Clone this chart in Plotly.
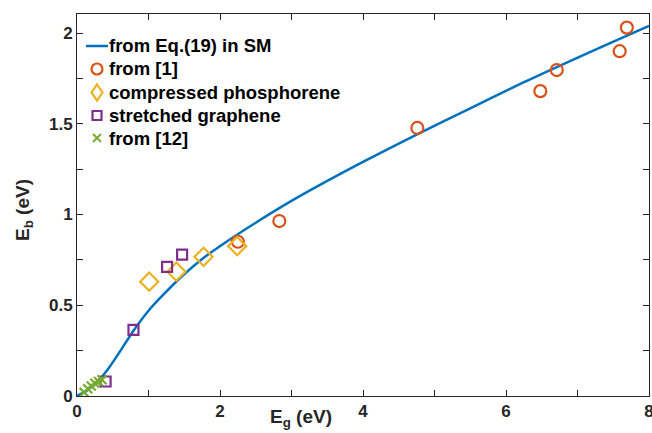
import plotly.graph_objects as go

# Model curve (from Eq.(19) in SM)
curve_x = [0, 0.1, 0.2, 0.3, 0.44, 0.6, 0.79, 1.0, 1.18, 1.46, 1.79, 2.07, 2.5, 3.0, 3.5, 4.0, 4.75, 5.5, 6.15, 6.71, 7.4, 8.0]
curve_y = [0, 0.02, 0.05, 0.085, 0.152, 0.245, 0.36, 0.47, 0.547, 0.657, 0.767, 0.845, 0.955, 1.075, 1.185, 1.29, 1.44, 1.585, 1.71, 1.812, 1.935, 2.04]

# from [1]
ref1_x = [2.25, 2.83, 4.76, 6.48, 6.71, 7.59, 7.69]
ref1_y = [0.85, 0.964, 1.477, 1.68, 1.796, 1.90, 2.03]

# compressed phosphorene
phos_x = [1.01, 1.39, 1.77, 2.24]
phos_y = [0.63, 0.685, 0.767, 0.826]

# stretched graphene
graph_x = [0.40, 0.79, 1.26, 1.47]
graph_y = [0.08, 0.364, 0.711, 0.779]

# from [12]
ref12_x = [0.10, 0.15, 0.20, 0.25, 0.30, 0.35]
ref12_y = [0.02, 0.04, 0.055, 0.07, 0.08, 0.09]

legend_labels = ["from Eq.(19) in SM", "from [1]", "compressed phosphorene", "stretched graphene", "from [12]"]

FONT = "Liberation Sans"
INK = "#262626"
C_LINE, C_REF1, C_PHOS, C_GRAPH, C_REF12 = "#0072BD", "#D95319", "#EDB120", "#7E2F8E", "#77AC30"

fig = go.Figure()
fig.add_trace(go.Scatter(x=curve_x, y=curve_y, mode="lines", name=legend_labels[0],
                         line=dict(color=C_LINE, width=2.5, shape="spline", smoothing=0.8)))
fig.add_trace(go.Scatter(x=ref1_x, y=ref1_y, mode="markers", name=legend_labels[1],
                         marker=dict(symbol="circle-open", size=12, color=C_REF1, line=dict(width=2.2, color=C_REF1))))
fig.add_trace(go.Scatter(x=phos_x, y=phos_y, mode="markers", name=legend_labels[2],
                         marker=dict(symbol="diamond-open", size=14, color=C_PHOS, line=dict(width=2.2, color=C_PHOS))))
fig.add_trace(go.Scatter(x=graph_x, y=graph_y, mode="markers", name=legend_labels[3],
                         marker=dict(symbol="square-open", size=10, color=C_GRAPH, line=dict(width=2.2, color=C_GRAPH))))
fig.add_trace(go.Scatter(x=ref12_x, y=ref12_y, mode="markers", name=legend_labels[4],
                         marker=dict(symbol="x-thin-open", size=9, color=C_REF12, line=dict(width=2.2, color=C_REF12))))

axis_common = dict(showline=True, linecolor=INK, linewidth=1, mirror="ticks", ticks="inside",
                   ticklen=6, tickcolor=INK, showgrid=False, zeroline=False, automargin=False,
                   ticklabeloverflow="allow",
                   tickfont=dict(family=FONT, size=17, color=INK, weight="bold"))

# Legend drawn as shapes + annotations (compact MATLAB-style spacing)
L, R, T, B = 77, 649, 14, 396
def px(xp):
    return (xp - L) / (R - L)
def py(yp):
    return (B - yp) / (B - T)

row_y = [46, 69, 92.5, 115.5, 138]
sym_x = 97
text_x = 107
shapes = []
annotations = []
for lbl, ry in zip(legend_labels, row_y):
    annotations.append(dict(text=lbl, x=px(text_x), y=py(ry), xref="paper", yref="paper",
                            xanchor="left", yanchor="middle", showarrow=False,
                            font=dict(family=FONT, size=18.5, color="black", weight="bold")))
common_pix = dict(xref="paper", yref="paper", xsizemode="pixel", ysizemode="pixel",
                  xanchor=px(sym_x), layer="above")
shapes.append(dict(type="line", xref="paper", yref="paper", x0=px(86), x1=px(108), y0=py(row_y[0]), y1=py(row_y[0]),
                   line=dict(color=C_LINE, width=2.5)))
shapes.append(dict(type="circle", x0=-5.5, x1=5.5, y0=-5.5, y1=5.5, yanchor=py(row_y[1]),
                   line=dict(color=C_REF1, width=2.2), **common_pix))
shapes.append(dict(type="path", path="M0,8 L5.5,0 L0,-8 L-5.5,0 Z", yanchor=py(row_y[2]),
                   line=dict(color=C_PHOS, width=2.2), **common_pix))
shapes.append(dict(type="rect", x0=-4.5, x1=4.5, y0=-4.5, y1=4.5, yanchor=py(row_y[3]),
                   line=dict(color=C_GRAPH, width=2.2), **common_pix))
shapes.append(dict(type="path", path="M-4,-4 L4,4 M-4,4 L4,-4", yanchor=py(row_y[4]),
                   line=dict(color=C_REF12, width=2), **common_pix))

annotations += [
    dict(text="E<sub>g</sub> (eV)", x=px(301), y=-0.02, xref="paper", yref="paper",
         xanchor="center", yanchor="top", showarrow=False,
         font=dict(family=FONT, size=19, color=INK, weight="bold")),
    dict(text="E<sub>b</sub> (eV)", x=px(24), y=py(210), xref="paper", yref="paper", textangle=-90,
         xanchor="center", yanchor="middle", showarrow=False,
         font=dict(family=FONT, size=19, color=INK, weight="bold")),
]

fig.update_layout(
    width=652, height=433,
    margin=dict(l=L, r=652 - R, t=T, b=433 - B),
    plot_bgcolor="white", paper_bgcolor="white",
    showlegend=False,
    xaxis=dict(range=[0, 8], tickvals=[0, 1, 2, 3, 4, 5, 6, 7, 8],
               ticktext=["0", "", "2", "", "4", "", "6", "", "8"], **axis_common),
    yaxis=dict(range=[0, 2.105], tickvals=[0, 0.25, 0.5, 0.75, 1, 1.25, 1.5, 1.75, 2],
               ticktext=["0", "", "0.5", "", "1", "", "1.5", "", "2"], **axis_common),
    shapes=shapes,
    annotations=annotations,
)

fig.write_html("out.html", config={"displayModeBar": False},
               post_script="document.body.style.margin='0';")
